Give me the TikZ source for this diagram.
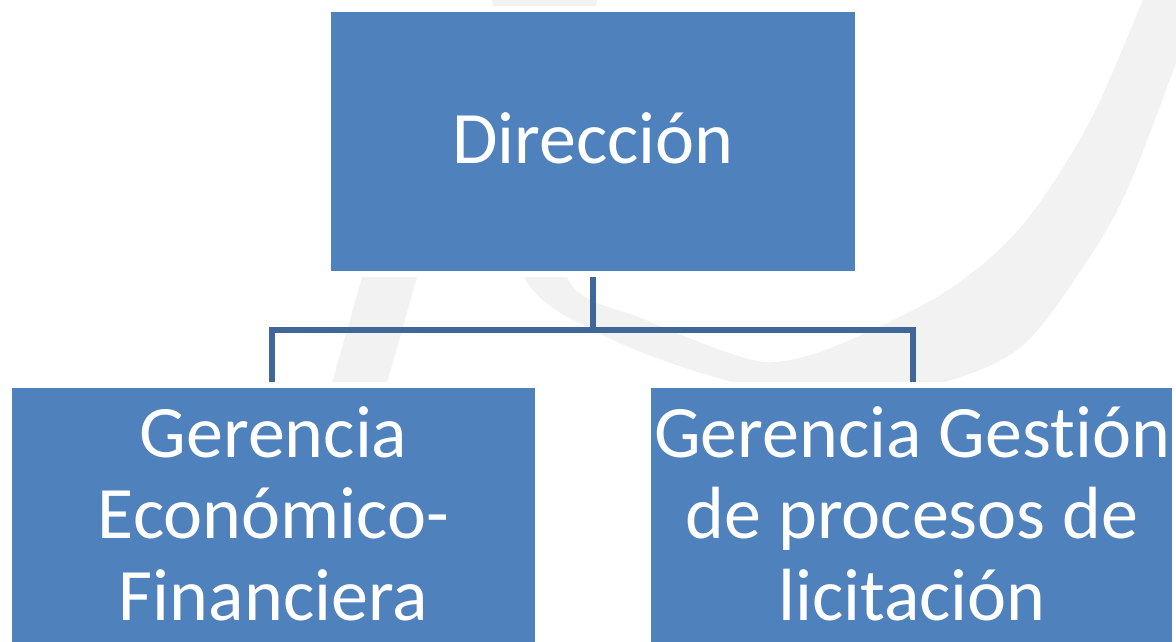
\documentclass[tikz,border=0pt]{standalone}
\usepackage{fontspec}
\setmainfont{Carlito}[Ligatures={NoCommon,NoContextual}]
\usetikzlibrary{backgrounds}
\definecolor{boxblue}{RGB}{79,129,189}
\definecolor{connblue}{RGB}{64,103,151}
\definecolor{wmgray}{RGB}{242,242,242}
\begin{document}
\begin{tikzpicture}[x=1pt,y=-1pt,
  orgbox/.style={rectangle, fill=boxblue, inner sep=0pt, preaction={draw=white, line width=12pt}},
  conn/.style={draw=connblue, line width=6pt},
  lbl/.style={text=white, font=\fontsize{74}{81.5}\selectfont, anchor=base, inner sep=0pt}]
\clip (0,0) rectangle (1176,642);
% boxes
\node[orgbox, minimum width=524pt, minimum height=259pt] (T) at (593,141.5) {};
\node[orgbox, minimum width=523pt, minimum height=300pt] (L) at (273.5,538) {};
\node[orgbox, minimum width=521pt, minimum height=300pt] (R) at (911.5,538) {};
% texts
\node[lbl] (Tt) at (593,163) {Dirección};
\node[lbl] (L1) at (273.5,457) {Gerencia};
\node[lbl] (L2) at (273.5,538) {Económico-};
\node[lbl] (L3) at (273.5,620) {Financiera};
\node[lbl] (R1) at (912,457) {Gerencia Gestión};
\node[lbl] (R2) at (912,538) {de procesos de};
\node[lbl] (R3) at (912,620) {licitación};
\coordinate (J) at (593,330);
\begin{pgfonlayer}{background}
\fill[white] (0,0) rectangle (1176,642);
% watermark
\fill[wmgray] plot[smooth, tension=0.55] coordinates {(486,-15) (492,0) (505,140) (524,277) (607,337) (725,380) (830,398) (923,388) (1017,350) (1083,267) (1127,190) (1176,63) (1205,-15)}
  -- plot[smooth, tension=0.55] coordinates {(1150,-15) (1143,0) (1088,125) (1020,228) (945,292) (850,340) (790,360) (745,358) (646,320) (567,277) (580,140) (597,0) (600,-15)} -- cycle;
\fill[wmgray] (330,390) -- (385,390) -- (439,200) -- (384,200) -- cycle;
% connectors
\draw[conn] (T.south) -- (J);
\draw[conn] ([xshift=-1.5pt]L.north) -- ([xshift=-1.5pt]L.north |- J) -- ([xshift=1.5pt]R.north |- J) -- ([xshift=1.5pt]R.north);
\end{pgfonlayer}
\end{tikzpicture}
\end{document}
